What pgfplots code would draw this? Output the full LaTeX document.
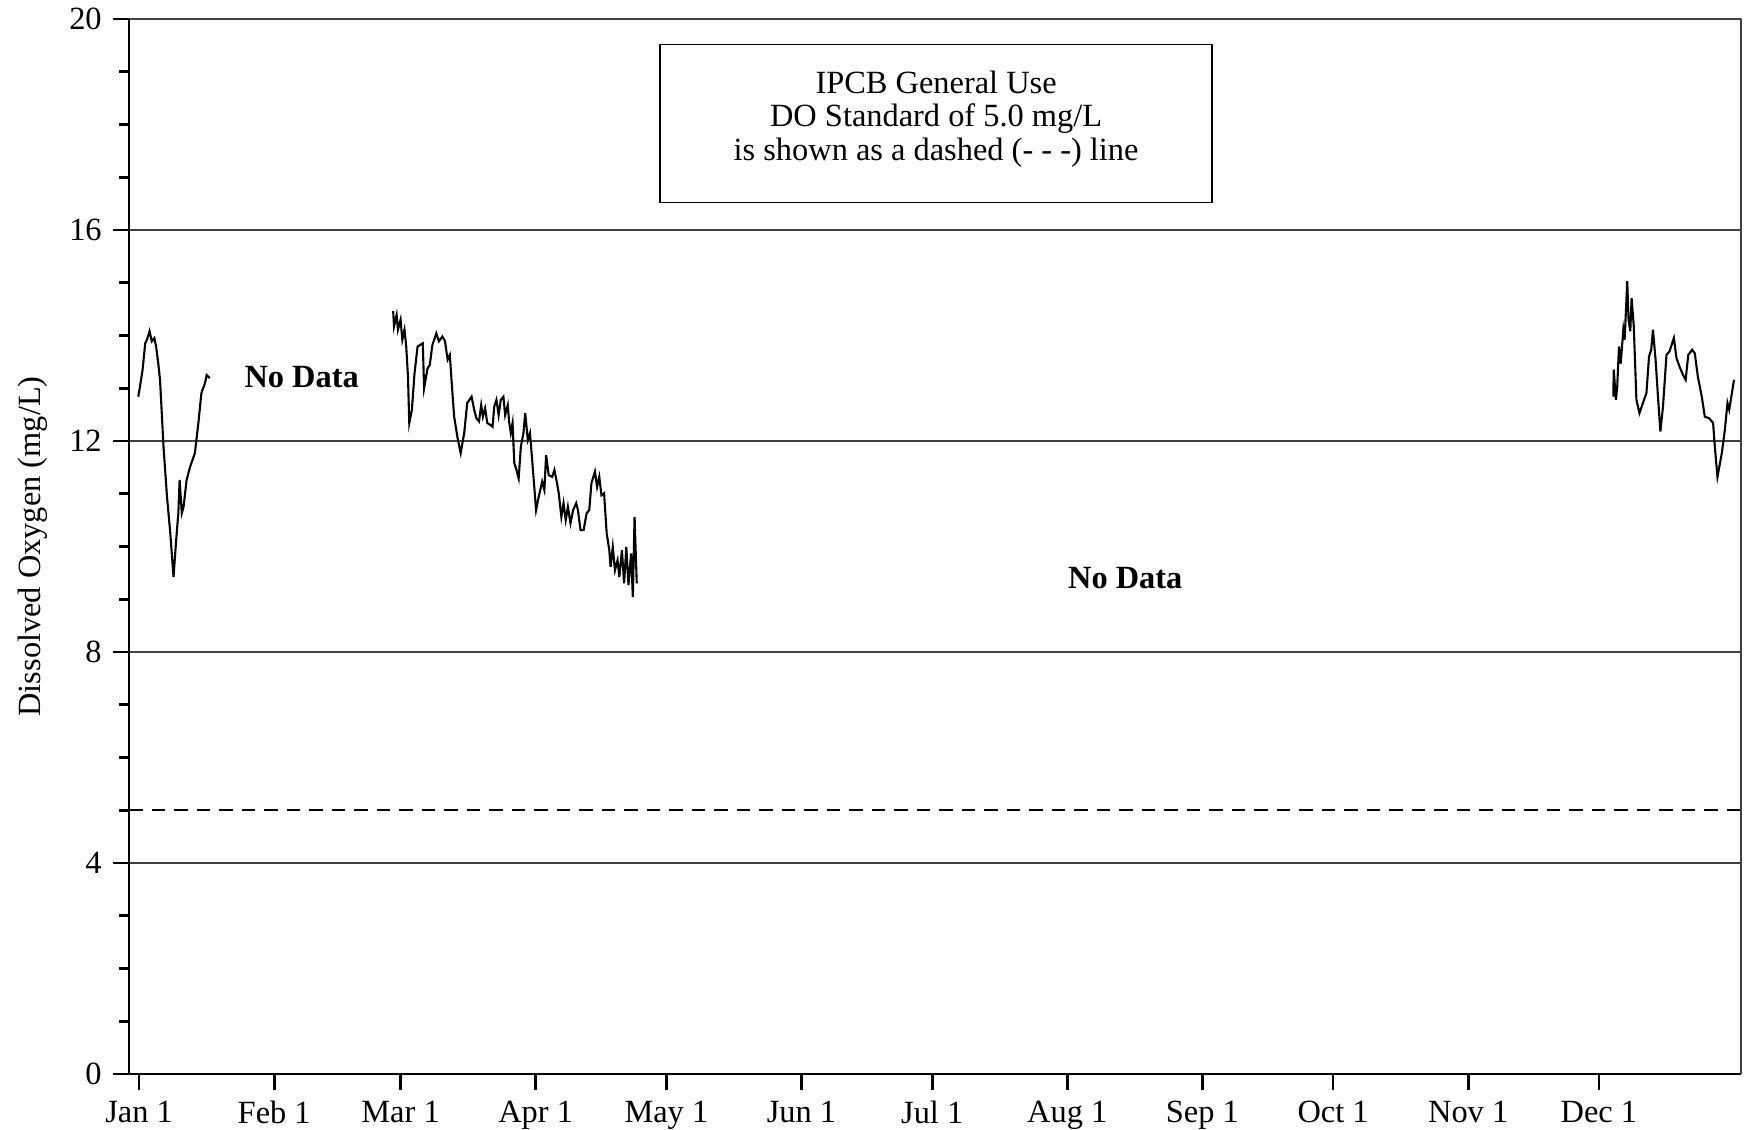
\documentclass[border=0pt]{standalone}
\usepackage{fontspec}
\setmainfont{Liberation Serif}
\usepackage{pgfplots}
\pgfplotsset{compat=1.18}
\begin{document}
\fontsize{10.8pt}{13pt}\selectfont
\begin{tikzpicture}
\useasboundingbox (-43pt,-18.67pt) rectangle (538.67pt,358pt);
\begin{axis}[
  scale only axis, width=537.33pt, height=351.67pt,
  at={(0,0)}, anchor=south west,
  xmin=-2.32, xmax=367.6, ymin=0, ymax=20,
  axis x line*=bottom, axis y line*=left,
  axis line style={line width=0.9pt, -},
  xtick={0,31,60,91,121,152,182,213,244,274,305,335},
  xticklabels={Jan 1,Feb 1,Mar 1,Apr 1,May 1,Jun 1,Jul 1,Aug 1,Sep 1,Oct 1,Nov 1,Dec 1},
  ytick={0,4,8,12,16,20},
  minor y tick num=3,
  tick align=outside,
  major tick length=5.3pt, minor tick length=3.3pt,
  tick style={line width=0.9pt, black},
  ymajorgrids, grid style={line width=0.45pt, black!75},
  extra x ticks={367.6}, extra x tick labels={},
  extra x tick style={xmajorgrids=true, major tick length=0pt},
  /pgf/number format/assume math mode=true,
  ticklabel style={font=\fontsize{10.8pt}{13pt}\selectfont},
  ylabel={Dissolved Oxygen (mg/L)},
  every axis y label/.style={at={(axis description cs:-0.0596,0.5)}, rotate=90, anchor=center},
  clip=false,
]
\addplot[black, line width=0.5pt, dash pattern=on 4.5pt off 3pt] coordinates {(-2.3,5) (367.6,5)};

\addplot[black, line width=0.7pt] coordinates {
(-0.2,12.84) (0.2,13.03) (0.8,13.35) (1.4,13.85) (1.8,13.92) (2.4,14.08) (2.9,13.89) (3.5,13.95) (3.9,13.79) (4.4,13.47) (4.8,13.16) (5.2,12.53) (5.6,11.89) (6.4,10.94) (7.1,10.31) (7.9,9.42) (8.5,10.12) (9.0,10.63) (9.3,11.26) (9.8,10.63) (10.2,10.75) (10.9,11.26) (11.7,11.51) (12.8,11.77) (13.6,12.34) (14.3,12.91) (15.1,13.09) (15.5,13.25) (16.2,13.19)
};

\addplot[black, line width=0.7pt] coordinates {
(58.3,14.46) (58.5,14.17) (59.1,14.39) (59.4,14.11) (60.0,14.30) (60.4,13.92) (60.9,14.11) (61.3,13.79) (61.7,13.22) (62.0,12.34) (62.6,12.59) (63.2,13.28) (63.9,13.79) (65.1,13.85) (65.4,13.0) (66.2,13.38) (66.7,13.44) (67.3,13.82) (68.2,14.04) (68.8,13.89) (69.6,13.98) (70.2,13.89) (70.8,13.54) (71.3,13.63) (71.9,12.91) (72.3,12.46) (73.1,12.05) (73.8,11.77) (74.6,12.15) (75.3,12.72) (76.3,12.84) (76.9,12.59) (77.4,12.43) (78.0,12.37) (78.5,12.68) (78.9,12.46) (79.4,12.62) (79.9,12.34) (80.7,12.30) (81.1,12.27) (81.5,12.65) (82.0,12.78) (82.5,12.49) (83.0,12.78) (83.6,12.84) (84.0,12.49) (84.6,12.68) (84.9,12.37) (85.3,12.15) (85.7,12.34) (86.1,11.58) (86.5,11.48) (87.1,11.29) (87.6,11.89) (88.2,12.15) (88.6,12.53) (89.2,12.02) (89.7,12.15) (90.2,11.64) (91.1,10.69) (91.7,10.94) (92.5,11.23) (93.0,11.07) (93.4,11.73) (94.0,11.35) (94.8,11.32) (95.3,11.45) (95.9,11.20) (96.3,11.01) (96.9,10.56) (97.4,10.82) (97.9,10.50) (98.4,10.75) (99.0,10.44) (99.6,10.69) (100.3,10.82) (100.7,10.69) (101.3,10.31) (102.0,10.31) (102.7,10.63) (103.3,10.69) (103.8,11.20) (104.6,11.42) (105.1,11.13) (105.6,11.32) (106.1,10.97) (106.7,11.01) (107.3,10.25) (107.9,9.93) (108.2,9.61) (108.7,9.99) (109.2,9.55) (109.8,9.74) (110.2,9.42) (110.8,9.93) (111.3,9.30) (111.8,9.99) (112.3,9.27) (112.9,9.87) (113.3,9.04) (113.7,10.56) (114.2,9.30)
};

\addplot[black, line width=0.7pt] coordinates {
(338.3,12.84) (338.4,13.35) (338.9,12.78) (339.2,13.03) (339.6,13.79) (340.0,13.47) (340.6,14.11) (340.9,13.92) (341.5,15.03) (341.8,14.30) (342.2,14.08) (342.5,14.71) (343.0,14.17) (343.6,12.78) (344.3,12.53) (345.1,12.72) (345.9,12.91) (346.5,13.60) (347.0,13.73) (347.4,14.11) (348.0,13.54) (348.6,12.78) (349.1,12.18) (349.7,12.65) (350.5,13.63) (351.2,13.70) (352.2,13.95) (352.8,13.57) (353.5,13.41) (354.3,13.25) (354.9,13.16) (355.5,13.63) (356.4,13.73) (357.0,13.66) (357.7,13.22) (358.6,12.84) (359.3,12.46) (360.3,12.43) (361.2,12.34) (361.6,11.89) (362.2,11.32) (363.2,11.77) (363.9,12.21) (364.5,12.72) (364.9,12.59) (366.0,13.16)
};

\node[draw, line width=0.5pt, minimum width=184pt, minimum height=52.7pt] at (axis cs:182.9,18.02) {};
\node[align=center, inner sep=0pt, yshift=1.5pt,
  font=\fontsize{10.8pt}{11.2pt}\selectfont] at (axis cs:182.9,18.02)
  {IPCB General Use\\DO Standard of 5.0 mg/L\\is shown as a dashed (- - -) line};
\node[font=\bfseries] at (axis cs:37.3,13.21) {No Data};
\node[font=\bfseries] at (axis cs:226.3,9.41) {No Data};
\end{axis}
\end{tikzpicture}
\end{document}
